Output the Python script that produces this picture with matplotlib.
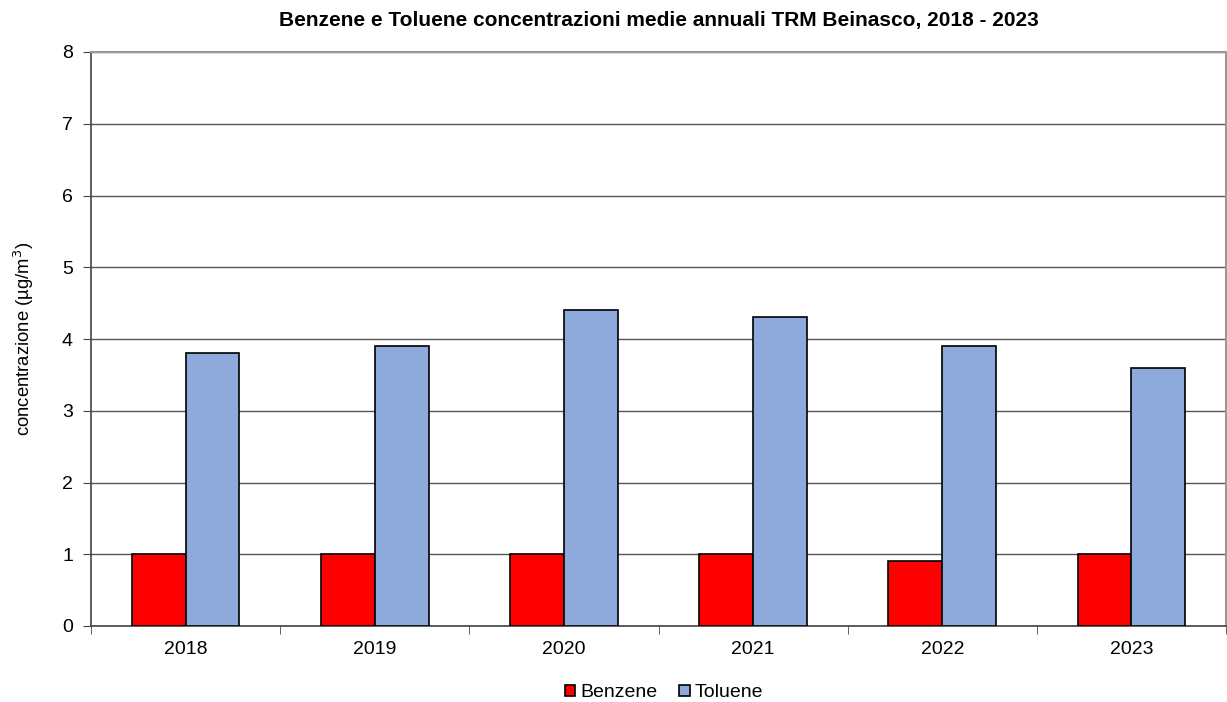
import matplotlib
matplotlib.use('Agg')
import matplotlib.pyplot as plt
import numpy as np

plt.rcParams['font.family'] = ['Liberation Sans', 'DejaVu Sans']

years = ['2018', '2019', '2020', '2021', '2022', '2023']
benzene = [1.0, 1.0, 1.0, 1.0, 0.9, 1.0]
toluene = [3.8, 3.9, 4.4, 4.3, 3.9, 3.6]

fig = plt.figure(figsize=(12.27, 7.02), dpi=100)
ax = fig.add_axes([91 / 1227, 1 - 626 / 702, 1135 / 1227, 574 / 702])

x = np.arange(len(years))
w = 0.285
ax.bar(x - w / 2, benzene, w, color='#ff0000', edgecolor='black', linewidth=1.2,
       label='Benzene', zorder=3)
ax.bar(x + w / 2, toluene, w, color='#8eaadc', edgecolor='black', linewidth=1.2,
       label='Toluene', zorder=3)

ax.set_xlim(-0.5, len(years) - 0.5)
ax.set_ylim(0, 8)
ax.set_yticks(range(0, 9))
ax.yaxis.grid(True, color='#555555', linewidth=1, zorder=0)

ax.set_xticks(x)
ax.set_xticklabels(years, fontsize=14)
ax.set_xticks(np.arange(-0.5, len(years)), minor=True)
ax.tick_params(axis='x', which='major', length=0, pad=11)
ax.tick_params(axis='x', which='minor', length=6, color='#444444', direction='out')
ax.tick_params(axis='y', labelsize=14, length=6, color='#444444', direction='out', pad=7)

for s in ['left', 'bottom']:
    ax.spines[s].set_color('#444444')
    ax.spines[s].set_linewidth(1.2)
for s in ['top', 'right']:
    ax.spines[s].set_color('#999999')
    ax.spines[s].set_linewidth(1.5)

ax.set_ylabel('concentrazione (µg/m$^3$)', fontsize=13.3, labelpad=19)
ax.set_title('Benzene e Toluene concentrazioni medie annuali TRM Beinasco, 2018 - 2023',
             fontsize=15, fontweight='bold', pad=19)

leg = fig.legend(loc='lower center', bbox_to_anchor=(0.541, -0.024), ncol=2, frameon=False,
                 fontsize=14, handlelength=0.55, handleheight=0.55, handletextpad=0.25,
                 columnspacing=1.12)

fig.savefig('out.png', dpi=100)
